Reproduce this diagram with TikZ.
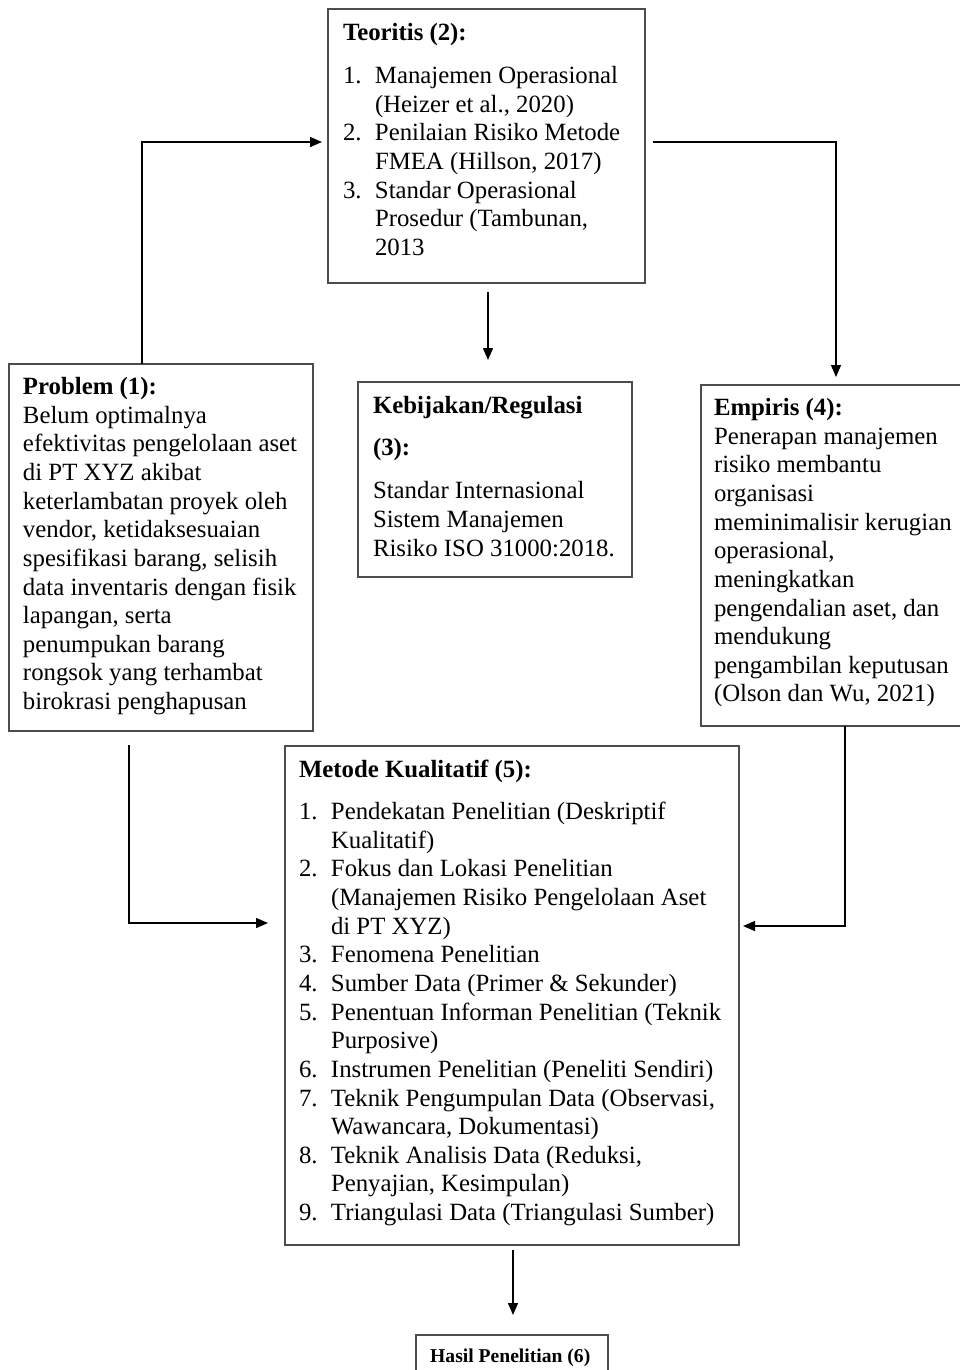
\documentclass[tikz,border=0pt]{standalone}
\usepackage{fontspec}
\setmainfont{Liberation Serif}
\usetikzlibrary{arrows.meta}
\newcommand\myitem[1]{\makebox[32pt][l]{#1}}
\newcommand\mycont{\hspace*{32pt}}
\newcommand\fsmain{\fontsize{24.8pt}{28.64pt}\selectfont}
\newcommand\fssmall{\fontsize{19.6pt}{23pt}\selectfont}
\begin{document}
\begin{tikzpicture}[x=1pt,y=-1pt,
  box/.style={draw=black!70, line width=1.3pt, rectangle, outer sep=0pt, inner sep=0pt, anchor=north west},
  txt/.style={anchor=north west, inner sep=0pt, outer sep=0pt, align=left, font=\fsmain, text=black},
  arr/.style={draw=black, line width=1.4pt, -{Triangle[length=12pt,width=10pt]}}]
\useasboundingbox[fill=white] (0,0) rectangle (960,1370);

% boxes
\node[box, minimum width=317pt, minimum height=274pt] (teo) at (328,9) {};
\node[box, minimum width=304pt, minimum height=367pt] (prob) at (9,364) {};
\node[box, minimum width=274pt, minimum height=195pt] (keb) at (358,382) {};
\node[box, minimum width=262pt, minimum height=341pt] (emp) at (701,385) {};
\node[box, minimum width=454pt, minimum height=499pt] (met) at (285,746) {};
\node[box, minimum width=192pt, minimum height=50pt] (has) at (416,1335) {};

% texts
\node[txt] (teot) at (343,20.5) {\textbf{Teoritis (2):}\strut\\[14.4pt]
\myitem{1.}Manajemen Operasional\\
\mycont(Heizer et al., 2020)\\
\myitem{2.}Penilaian Risiko Metode\\
\mycont FMEA (Hillson, 2017)\\
\myitem{3.}Standar Operasional\\
\mycont Prosedur (Tambunan,\\
\mycont 2013};

\node[txt] (probt) at (23,374.5) {\textbf{Problem (1):}\strut\\
Belum optimalnya\\
efektivitas pengelolaan aset\\
di PT XYZ akibat\\
keterlambatan proyek oleh\\
vendor, ketidaksesuaian\\
spesifikasi barang, selisih\\
data inventaris dengan fisik\\
lapangan, serta\\
penumpukan barang\\
rongsok yang terhambat\\
birokrasi penghapusan};

\node[txt] (kebt) at (373,393) {\textbf{Kebijakan/Regulasi}\strut\\[14.3pt]
\textbf{(3):}\\[14.3pt]
Standar Internasional\\
Sistem Manajemen\\
Risiko ISO 31000:2018.};

\node[txt] (empt) at (714,395.5) {\textbf{Empiris (4):}\strut\\
Penerapan manajemen\\
risiko membantu\\
organisasi\\
meminimalisir kerugian\\
operasional,\\
meningkatkan\\
pengendalian aset, dan\\
mendukung\\
pengambilan keputusan\\
(Olson dan Wu, 2021)};

\node[txt] (mett) at (299,757.5) {\textbf{Metode Kualitatif (5):}\strut\\[13.4pt]
\myitem{1.}Pendekatan Penelitian (Deskriptif\\
\mycont Kualitatif)\\
\myitem{2.}Fokus dan Lokasi Penelitian\\
\mycont(Manajemen Risiko Pengelolaan Aset\\
\mycont di PT XYZ)\\
\myitem{3.}Fenomena Penelitian\\
\myitem{4.}Sumber Data (Primer \& Sekunder)\\
\myitem{5.}Penentuan Informan Penelitian (Teknik\\
\mycont Purposive)\\
\myitem{6.}Instrumen Penelitian (Peneliti Sendiri)\\
\myitem{7.}Teknik Pengumpulan Data (Observasi,\\
\mycont Wawancara, Dokumentasi)\\
\myitem{8.}Teknik Analisis Data (Reduksi,\\
\mycont Penyajian, Kesimpulan)\\
\myitem{9.}Triangulasi Data (Triangulasi Sumber)};

\node[anchor=base west, inner sep=0pt, font=\fssmall\bfseries] (hast) at (430,1362) {Hasil Penelitian (6)};

% connector helper coordinates
\coordinate (c1) at (142,142);
\coordinate (c2) at (836,142);
\coordinate (c3) at (488,330);
\coordinate (c4) at (129,923);
\coordinate (c5) at (845,926);
\coordinate (c6) at (513,1290);

% connectors
\draw[arr, shorten >=6pt] (prob.north -| c1) |- (teo.west |- c1);
\draw[arr, shorten <=8pt, shorten >=8pt] (teo.east |- c2) -| (emp.north -| c2);
\draw[arr, shorten <=9pt, shorten >=22pt] (teo.south -| c3) -- (keb.north -| c3);
\draw[arr, shorten <=14pt, shorten >=17pt] (prob.south -| c4) |- (met.west |- c4);
\draw[arr, shorten >=4pt] (emp.south -| c5) |- (met.east |- c5);
\draw[arr, shorten <=5pt, shorten >=20pt] (met.south -| c6) -- (has.north -| c6);
\end{tikzpicture}
\end{document}
